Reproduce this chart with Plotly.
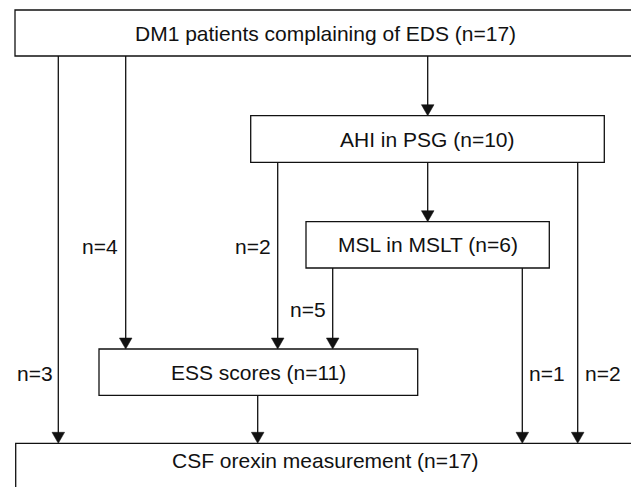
import plotly.graph_objects as go

W, H = 631, 487

# Nodes of the flow chart (pixel coordinates of the drawing area)
box_labels = ["DM1 patients complaining of EDS (n=17)", "AHI in PSG (n=10)",
              "MSL in MSLT (n=6)", "ESS scores (n=11)", "CSF orexin measurement (n=17)"]
box_x0 = [15, 250.7, 306, 99, 15.7]
box_x1 = [636, 604.3, 549.3, 417.7, 636]
box_y0 = [10, 115.7, 221.7, 349, 443.3]
box_y1 = [56, 162.3, 268, 395.3, 500]
text_x = [325, 427.5, 427.7, 258.3, 325]
text_y = [33.5, 139, 244.8, 372, 460.5]

# Edges: vertical arrow x position, start y, end y, count label and its position
edge_x = [58.3, 125.7, 427.7, 277.7, 427.7, 577.7, 332.7, 522.3, 257.7]
edge_y0 = [56, 56, 56, 162.3, 162.3, 162.3, 268, 268, 395.3]
edge_y1 = [443.3, 349, 115.7, 349, 221.7, 443.3, 349, 443.3, 443.3]
edge_labels = ["n=3", "n=4", "", "n=2", "", "n=2", "n=5", "n=1", ""]
label_x = [35, 99.5, None, 252.5, None, 603.3, 308.3, 546.7, None]
label_y = [373.3, 246, None, 246, None, 373.3, 309.3, 373.3, None]

FONT = dict(family="Liberation Sans, Arial, sans-serif", size=21, color="#111111")
LINE = dict(color="#111111", width=1.3)

fig = go.Figure()
fig.add_trace(go.Scatter(x=[0, W], y=[0, H], mode="markers",
                         marker=dict(opacity=0), hoverinfo="skip", showlegend=False))

shapes = []
annotations = []
for lab, x0, x1, y0, y1, tx, ty in zip(box_labels, box_x0, box_x1, box_y0, box_y1, text_x, text_y):
    shapes.append(dict(type="rect", x0=x0, x1=x1, y0=y0, y1=y1, xref="x", yref="y",
                       line=LINE, fillcolor="white", layer="above"))
    annotations.append(dict(x=tx, y=ty, xref="x", yref="y", text=lab, showarrow=False,
                            font=FONT, xanchor="center", yanchor="middle"))

AW, AH = 6.3, 11
for ex, ey0, ey1, lab, lx, ly in zip(edge_x, edge_y0, edge_y1, edge_labels, label_x, label_y):
    shapes.append(dict(type="line", x0=ex, x1=ex, y0=ey0, y1=ey1 - AH + 1, xref="x", yref="y",
                       line=LINE))
    shapes.append(dict(type="path", xref="x", yref="y",
                       path=f"M {ex - AW},{ey1 - AH} L {ex + AW},{ey1 - AH} L {ex},{ey1} Z",
                       fillcolor="#111111", line=dict(color="#111111", width=0.5)))
    if lab:
        annotations.append(dict(x=lx, y=ly, xref="x", yref="y", text=lab, showarrow=False,
                                font=FONT, xanchor="center", yanchor="middle"))

fig.update_layout(
    width=W, height=H,
    margin=dict(l=0, r=0, t=0, b=0),
    paper_bgcolor="white", plot_bgcolor="white",
    xaxis=dict(range=[0, W], visible=False, fixedrange=True),
    yaxis=dict(range=[H, 0], visible=False, fixedrange=True),
    shapes=shapes, annotations=annotations,
    showlegend=False,
)

fig.write_html("out.html", config={"displayModeBar": False},
               post_script="document.body.style.margin='0';document.body.style.padding='0';"
                           "document.body.style.overflow='hidden';")
